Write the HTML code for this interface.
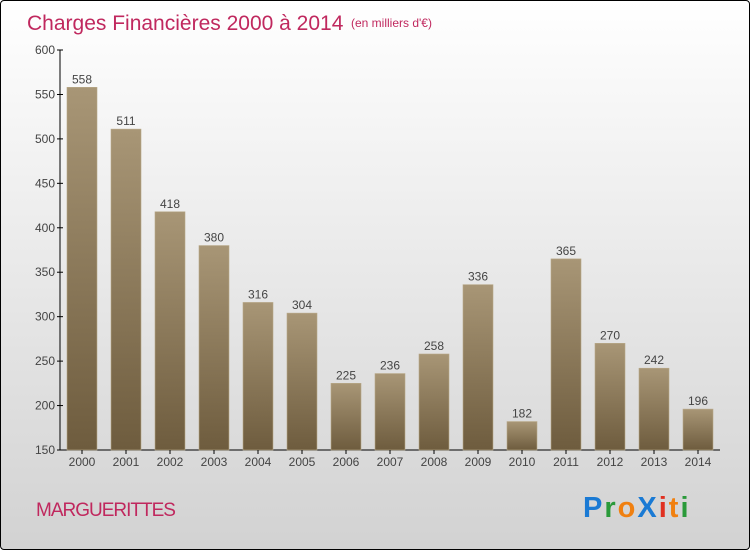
<!DOCTYPE html>
<html><head><meta charset="utf-8"><style>
body{margin:0;width:750px;height:550px;overflow:hidden;font-family:"Liberation Sans",sans-serif}
#wrap{position:absolute;left:0;top:0;width:748px;height:548px;border:1px solid #000;border-radius:4px;background:linear-gradient(#ffffff,#d2d2d2);overflow:hidden}
svg{position:absolute;left:-1px;top:-1px}
</style></head><body>
<div id="wrap">
<svg width="750" height="550">
<defs><linearGradient id="bg" x1="0" y1="0" x2="0" y2="1"><stop offset="0" stop-color="#a89676"/><stop offset="1" stop-color="#6e5c3e"/></linearGradient></defs>
<text x="27" y="30" font-size="21" fill="#c0285e">Charges Financières 2000 à 2014</text>
<text x="351" y="27" font-size="12" fill="#c0285e">(en milliers d'€)</text>
<text x="36" y="516" font-size="19" fill="#c0285e" style="letter-spacing:-1px">MARGUERITTES</text>
<g id="chart"></g>
<g font-size="29" font-weight="bold">
<text x="583" y="517" style="letter-spacing:2px"><tspan fill="#1a7ad4">P</tspan><tspan fill="#2a9a3a">r</tspan><tspan fill="#f08010">o</tspan><tspan fill="#1a7ad4">X</tspan><tspan fill="#e03020">i</tspan><tspan fill="#f08010">t</tspan><tspan fill="#2a9a3a">i</tspan></text>
</g>
</svg></div>
<script>
const years=["2000","2001","2002","2003","2004","2005","2006","2007","2008","2009","2010","2011","2012","2013","2014"];
const values=[558,511,418,380,316,304,225,236,258,336,182,365,270,242,196];
const yTicks=[150,200,250,300,350,400,450,500,550,600];
const NS="http://www.w3.org/2000/svg";
const g=document.getElementById('chart');
const y=v=>450-(v-150)*400/450;
const x=i=>82+i*44;
function mk(t,a){const e=document.createElementNS(NS,t);for(const k in a)e.setAttribute(k,a[k]);g.appendChild(e);return e;}
let ax=mk('line',{x1:60,y1:50,x2:60,y2:450,stroke:'#000'});


let bx=mk('line',{x1:60,y1:450,x2:720,y2:450,stroke:'#000'});


yTicks.forEach(v=>{
 let t=mk('line',{x1:57,y1:y(v),x2:63,y2:y(v),stroke:'#000'});
 
 
 let l=mk('text',{x:55,y:y(v)+4,'font-size':12,'text-anchor':'end',fill:'#444'});l.textContent=v;
 
 
});
years.forEach((yr,i)=>{
 let b=mk('rect',{x:x(i)-15,y:y(values[i]),width:30,height:450-y(values[i]),fill:'url(#bg)',stroke:'#b8a888','stroke-width':0.6});
 
 
 let v=mk('text',{x:x(i),y:y(values[i])-4,'font-size':12,'text-anchor':'middle',fill:'#444'});v.textContent=values[i];
 
 
 let t=mk('line',{x1:x(i),y1:450,x2:x(i),y2:454,stroke:'#000'});
 
 
 let l=mk('text',{x:x(i),y:466,'font-size':12,'text-anchor':'middle',fill:'#444'});l.textContent=yr;
 
 
});
</script>
</body></html>
